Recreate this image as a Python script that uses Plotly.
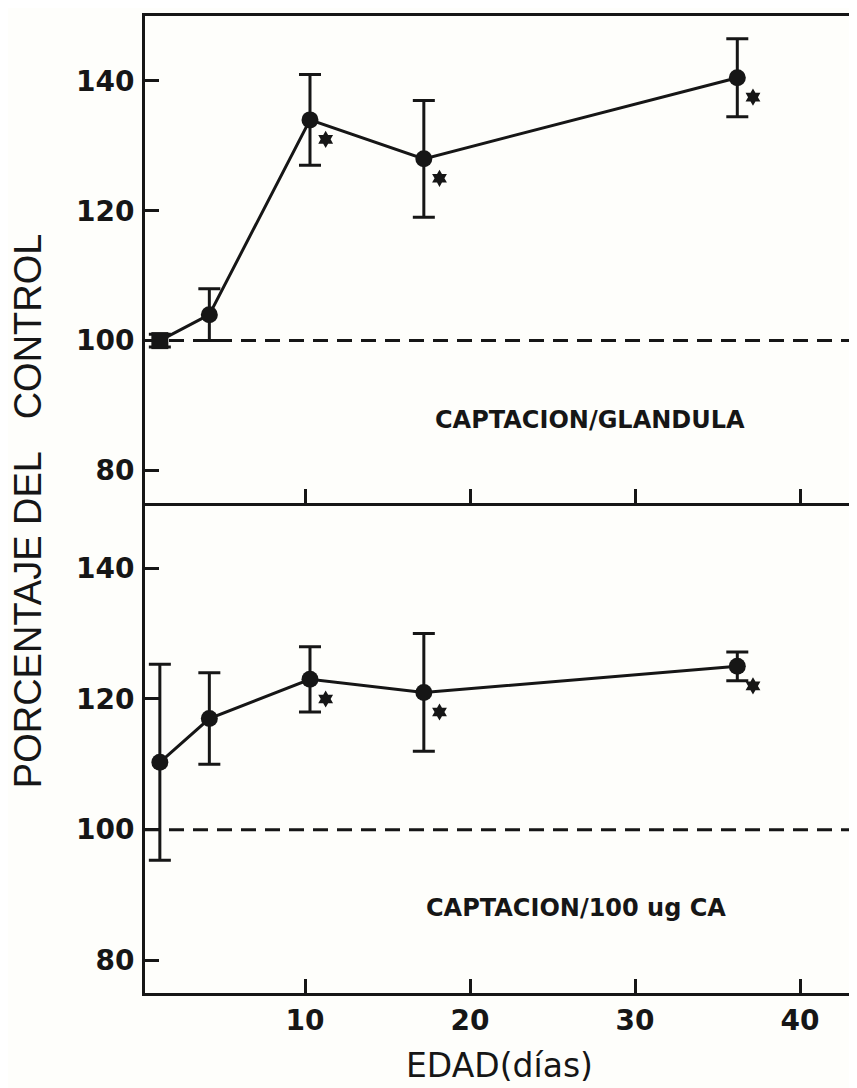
import plotly.graph_objects as go
from plotly.subplots import make_subplots

# edad (dias)
edad = [1.2, 4.2, 10.3, 17.2, 36.2]

# captacion / glandula (% del control)
glandula = [100, 104, 134, 128, 140.5]
glandula_err = [1, 4, 7, 9, 6]

# captacion / 100 ug CA (% del control)
ca = [110.3, 117, 123, 121, 125]
ca_err = [15, 7, 5, 9, 2.2]

# diferencia significativa (*)
signif = [False, False, True, True, True]

x_ticks = [10, 20, 30, 40]
y_ticks = [80, 100, 120, 140]

INK = '#161616'
FONT = 'DejaVu Sans'

fig = make_subplots(rows=2, cols=1, shared_xaxes=True, vertical_spacing=0)


def add_panel(row, y, err, symbols):
    fig.add_scatter(
        x=edad, y=y,
        mode='lines+markers',
        line=dict(color=INK, width=3),
        marker=dict(size=17, color=INK, symbol=symbols),
        error_y=dict(type='data', array=err, color=INK, thickness=3, width=11),
        showlegend=False,
        row=row, col=1,
    )
    # asteriscos junto a los puntos significativos
    sx = [a + 0.95 for a, s in zip(edad, signif) if s]
    sy = [b - 3.0 for b, s in zip(y, signif) if s]
    fig.add_scatter(
        x=sx, y=sy, mode='markers',
        marker=dict(size=13, color=INK, symbol='hexagram'),
        showlegend=False,
        row=row, col=1,
    )


add_panel(1, glandula, glandula_err, ['square'] + ['circle'] * 4)
add_panel(2, ca, ca_err, 'circle')

fig.add_hline(y=100, line=dict(color=INK, width=3, dash='15px,9px'), row='all', col=1)

axis_common = dict(
    showline=True, linecolor=INK, linewidth=3,
    ticks='inside', ticklen=14, tickwidth=3, tickcolor=INK,
    showgrid=False, zeroline=False,
)
tickfont = dict(family=FONT, size=28, color=INK, weight='bold')

fig.update_xaxes(range=[0.3, 42.97], tickvals=x_ticks, tickfont=tickfont, **axis_common)
fig.update_xaxes(showticklabels=False, mirror=True, row=1, col=1)
fig.update_yaxes(range=[75, 150], tickvals=y_ticks, tickfont=tickfont, ticklabelstandoff=2,
                 **axis_common)
fig.update_layout(
    xaxis_domain=[0, 1], yaxis_domain=[0.5016, 1], yaxis2_domain=[0, 0.5016],
)

label_font = dict(family=FONT, size=24, color=INK, weight='bold')
fig.add_annotation(x=27.3, y=87.7, xref='x', yref='y', text='CAPTACION/GLANDULA',
                   showarrow=False, yanchor='middle', font=label_font)
fig.add_annotation(x=26.4, y=88, xref='x2', yref='y2', text='CAPTACION/100 ug CA',
                   showarrow=False, yanchor='middle', font=label_font)

# el cuerpo de la pagina tiene 8px de margen: se compensa en los margenes
fig.add_annotation(x=-0.166, y=0.4933, xref='paper', yref='paper', textangle=-90,
                   text='PORCENTAJE DEL\u00a0\u00a0\u00a0CONTROL', showarrow=False,
                   xanchor='center', yanchor='middle',
                   font=dict(family='Liberation Sans', size=38, color=INK))
fig.add_annotation(x=0.504, y=-0.0737, xref='paper', yref='paper', text='EDAD(días)',
                   showarrow=False, xanchor='center', yanchor='middle',
                   font=dict(family=FONT, size=33, color=INK))

fig.update_layout(
    width=841, height=1080,
    margin=dict(l=137, r=0, t=8, b=95),
    paper_bgcolor='#fefefb', plot_bgcolor='#fefefb',
)

fig.write_html('out.html')
